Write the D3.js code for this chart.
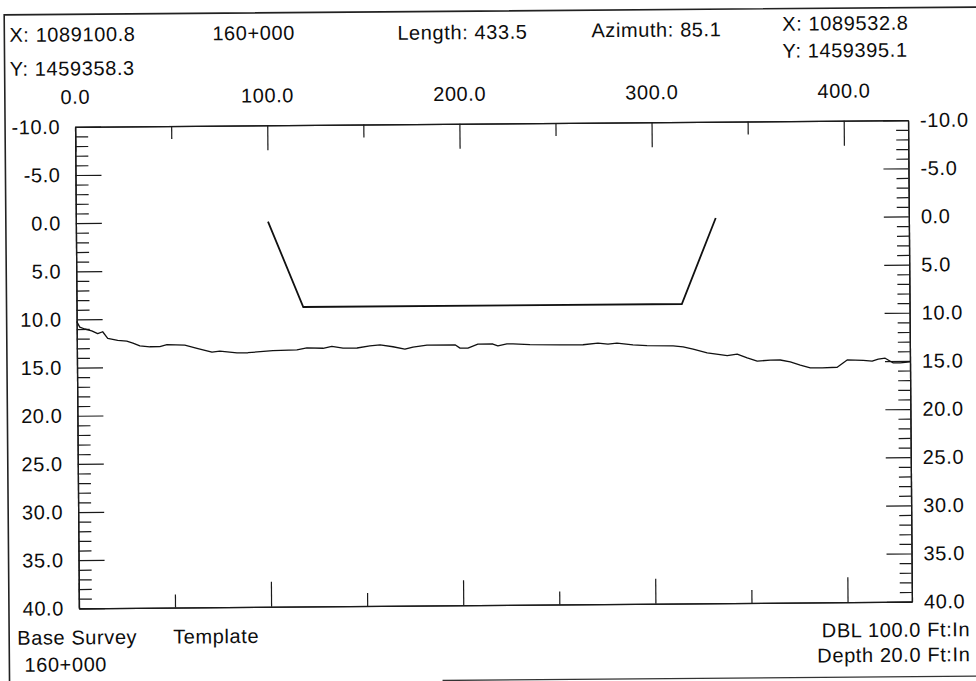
<!DOCTYPE html>
<html>
<head>
<meta charset="utf-8">
<script src="https://cdn.jsdelivr.net/npm/d3@7"></script>
<style>
  body { margin: 0; background: #fff; }
  svg { display: block; }
  text { font-family: "Liberation Sans", Arial, sans-serif; fill: #0d0d0d; letter-spacing: 0.6px; }
</style>
</head>
<body>
<div id="chart"></div>
<script>
// header / footer texts
var headerLeft = ["X: 1089100.8", "Y: 1459358.3"];
var headerRight = ["X: 1089532.8", "Y: 1459395.1"];
var stationText = "160+000";
var lengthText = "Length: 433.5";
var azimuthText = "Azimuth: 85.1";
var footerLeft = ["Base Survey", "160+000"];
var footerRight = ["DBL 100.0 Ft:In", "Depth 20.0 Ft:In"];
var templateText = "Template";

// axes
var stationMajor = [0, 100, 200, 300, 400];
var stationMinor = [50, 150, 250, 350];
var depthMajor = [-10, -5, 0, 5, 10, 15, 20, 25, 30, 35, 40];
var depthMinor = [-9, -8, -7, -6, -4, -3, -2, -1, 1, 2, 3, 4, 6, 7, 8, 9,
                  11, 12, 13, 14, 16, 17, 18, 19, 21, 22, 23, 24, 26, 27, 28, 29,
                  31, 32, 33, 34, 36, 37, 38, 39];

// base survey (ground) profile
var groundStation = [0, 1.6, 4.2, 7.8, 10.9, 13.5, 16.1, 21.3, 26.0, 29.2, 32.8, 38.0, 43.2, 46.9,
  56.2, 62.5, 70.3, 74.4, 83.3, 89.0, 102.0, 114.5, 119.7, 128.1, 132.7, 138.5, 145.8, 152.5,
  157.8, 164.5, 170.7, 174.9, 182.2, 196.8, 199.4, 203.5, 208.7, 216.5, 219.1, 223.8, 227.0,
  235.8, 251.4, 263.4, 271.2, 276.4, 281.1, 289.4, 296.7, 310.3, 315.5, 320.7, 328.0, 334.7,
  338.4, 343.6, 348.8, 354.0, 360.8, 366.0, 371.2, 376.4, 381.6, 387.8, 395.6, 400.8, 409.2,
  413.8, 417.0, 420.6, 424.8, 428.4, 433.5];
var groundDepth = [10.2, 10.8, 11.0, 11.2, 11.5, 11.3, 12.0, 12.2, 12.3, 12.5, 12.8, 12.9, 12.9, 12.7,
  12.75, 13.1, 13.5, 13.4, 13.6, 13.6, 13.4, 13.35, 13.15, 13.2, 13.0, 13.2, 13.2, 13.0,
  12.9, 13.1, 13.35, 13.15, 12.95, 12.95, 13.3, 13.3, 12.9, 12.9, 13.1, 12.9, 12.9,
  13.0, 13.05, 13.05, 12.9, 13.0, 12.9, 13.1, 13.2, 13.25, 13.35, 13.6, 14.0, 14.2,
  14.3, 14.15, 14.55, 14.9, 14.8, 14.8, 15.0, 15.35, 15.65, 15.65, 15.6, 14.85, 14.9,
  15.0, 14.8, 14.7, 15.2, 15.2, 15.1];

// channel template
var templateStation = [100, 118, 315, 333];
var templateDepth = [0, 8.9, 8.9, 0];

var W = 976, H = 681;

var svg = d3.select("#chart").append("svg")
  .attr("width", W)
  .attr("height", H);

// the sheet is scanned a little crooked
var sheet = svg.append("g")
  .attr("transform", "rotate(-0.46, 492, 364)");

var xScale = d3.scaleLinear().domain([0, 433.5]).range([77, 910]);
var yScale = d3.scaleLinear().domain([-10, 40]).range([123.5, 605]);

// frame of the sheet
sheet.append("path")
  .attr("d", "M7,700 L7,11 L990,11")
  .attr("fill", "none")
  .attr("stroke", "#222")
  .attr("stroke-width", 1.6);
sheet.append("line")
  .attr("x1", 440).attr("y1", 680).attr("x2", 990).attr("y2", 680)
  .attr("stroke", "#333")
  .attr("stroke-width", 1.4);

function styleAxis(g) {
  g.attr("font-size", 20)
   .attr("font-family", null)
   .attr("color", "#1a1a1a");
  g.selectAll("line").attr("stroke-width", 1.2);
  g.selectAll("path").attr("stroke-width", 1.3);
}

// plain hyphen for negatives, like the original print
var fmt = function(d) { return d.toFixed(1); };

// top axis
sheet.append("g")
  .attr("transform", "translate(0," + yScale(-10) + ")")
  .call(d3.axisTop(xScale).tickValues(stationMajor).tickFormat(fmt)
        .tickSize(-25).tickSizeOuter(0).tickPadding(23))
  .call(styleAxis);
sheet.append("g")
  .attr("transform", "translate(0," + yScale(-10) + ")")
  .call(d3.axisTop(xScale).tickValues(stationMinor).tickFormat("")
        .tickSize(-13).tickSizeOuter(0))
  .call(styleAxis);

// bottom axis
sheet.append("g")
  .attr("transform", "translate(0," + yScale(40) + ")")
  .call(d3.axisBottom(xScale).tickValues(stationMajor).tickFormat("")
        .tickSize(-25).tickSizeOuter(0))
  .call(styleAxis);
sheet.append("g")
  .attr("transform", "translate(0," + yScale(40) + ")")
  .call(d3.axisBottom(xScale).tickValues(stationMinor).tickFormat("")
        .tickSize(-13).tickSizeOuter(0))
  .call(styleAxis);

// left axis
sheet.append("g")
  .attr("transform", "translate(" + xScale(0) + ",0)")
  .call(d3.axisLeft(yScale).tickValues(depthMajor).tickFormat(fmt)
        .tickSize(-26).tickSizeOuter(0).tickPadding(15))
  .call(styleAxis);
sheet.append("g")
  .attr("transform", "translate(" + xScale(0) + ",0)")
  .call(d3.axisLeft(yScale).tickValues(depthMinor).tickFormat("")
        .tickSize(-13).tickSizeOuter(0))
  .call(styleAxis);

// right axis
sheet.append("g")
  .attr("transform", "translate(" + xScale(433.5) + ",0)")
  .call(d3.axisRight(yScale).tickValues(depthMajor).tickFormat(fmt)
        .tickSize(-25).tickSizeOuter(0).tickPadding(12))
  .call(styleAxis);
sheet.append("g")
  .attr("transform", "translate(" + xScale(433.5) + ",0)")
  .call(d3.axisRight(yScale).tickValues(depthMinor).tickFormat("")
        .tickSize(-12).tickSizeOuter(0))
  .call(styleAxis);

// ground line
var ground = groundStation.map(function(s, i) { return [s, groundDepth[i]]; });
var tmpl = templateStation.map(function(s, i) { return [s, templateDepth[i]]; });

var line = d3.line()
  .x(function(d) { return xScale(d[0]); })
  .y(function(d) { return yScale(d[1]); });

sheet.append("path")
  .datum(ground)
  .attr("d", line)
  .attr("fill", "none")
  .attr("stroke", "#111")
  .attr("stroke-width", 1.3)
  .attr("stroke-linejoin", "round");

sheet.append("path")
  .datum(tmpl)
  .attr("d", line)
  .attr("fill", "none")
  .attr("stroke", "#111")
  .attr("stroke-width", 1.8)
  .attr("stroke-linejoin", "miter");

// texts
function label(txt, x, y, anchor) {
  sheet.append("text")
    .attr("x", x).attr("y", y)
    .attr("font-size", 20)
    .attr("text-anchor", anchor || "start")
    .text(txt);
}

label(headerLeft[0], 12, 38);
label(headerLeft[1], 12, 72);
label(stationText, 215, 38);
label(lengthText, 400, 39);
label(azimuthText, 594, 38);
label(headerRight[0], 785, 33);
label(headerRight[1], 785, 60);

label(footerLeft[0], 15, 641);
label(footerLeft[1], 22, 668);
label(templateText, 171, 641);
label(footerRight[0], 968, 640, "end");
label(footerRight[1], 968, 665, "end");
</script>
</body>
</html>
